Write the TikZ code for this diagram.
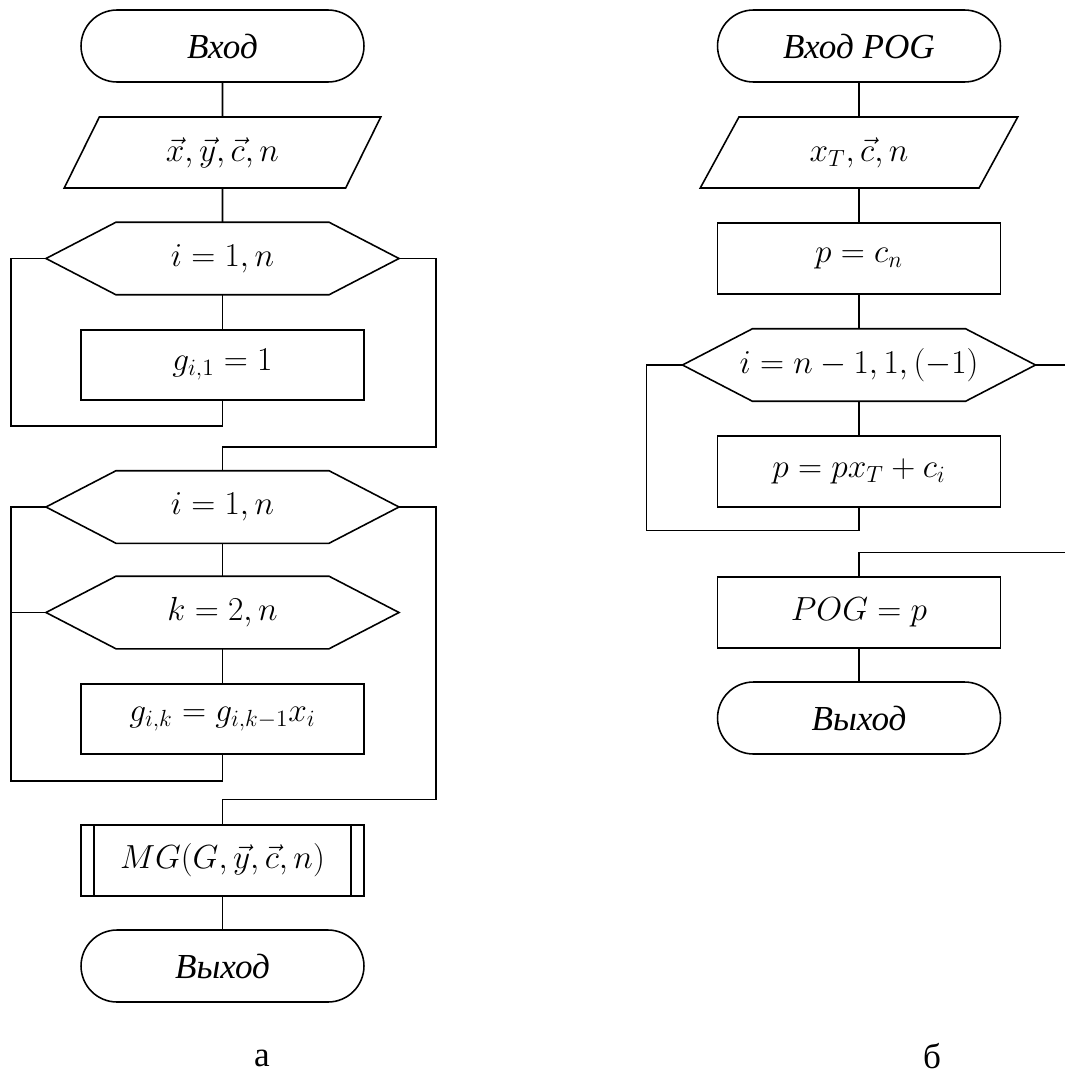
\RequirePackage{fix-cm}
\documentclass[tikz,border=0pt]{standalone}
\usepackage{fontspec}
\setmainfont{Liberation Serif}
\usepackage{amsmath}
\usetikzlibrary{positioning,shapes.geometric,calc}

% hexagon outline of a loop node
\newcommand{\cycshape}[1]{%
  \draw (#1.west) -- ([xshift=1.4cm]#1.north west) -- ([xshift=-1.4cm]#1.north east)
    -- (#1.east) -- ([xshift=-1.4cm]#1.south east) -- ([xshift=1.4cm]#1.south west) -- cycle;}

\begin{document}
\begin{tikzpicture}[x=0.02cm,y=-0.02cm,line width=0.9pt,
  font=\fontsize{19}{23}\selectfont,
  term/.style={draw,rounded corners=0.72cm,minimum width=5.66cm,minimum height=1.44cm,font=\fontsize{20}{24}\selectfont\itshape},
  proc/.style={draw,minimum width=5.66cm,minimum height=1.41cm},
  io/.style={draw,trapezium,trapezium left angle=67,trapezium right angle=113,trapezium stretches=true,minimum width=6.36cm,minimum height=1.42cm},
  cyc/.style={minimum width=7.03cm,minimum height=1.42cm},
  capt/.style={inner sep=0pt,font=\fontsize{20}{24}\selectfont}]
\useasboundingbox (0,0) rectangle (1065,1072);

% a
\node[term] (in1) at (222.5,46) {Вход};
\node[io] (dat1) at (222.5,152.5) {$\vec{x}, \vec{y}, \vec{c}, n$};
\node[cyc] (cyc1) at (222.5,258.5) {$i=1, n$};
\node[proc] (g1) at (222.5,365) {$g_{i,1}=1$};
\node[cyc] (cyc2) at (222.5,507) {$i=1, n$};
\node[cyc] (cyc3) at (222.5,612.5) {$k=2, n$};
\node[proc] (g2) at (222.5,719) {$g_{i,k}=g_{i,k-1}x_i$};
\node[proc] (mg) at (222.5,860.5) {$MG(G, \vec{y}, \vec{c}, n)$};
\node[term] (out1) at (222.5,966) {Выход};
\node[capt] (capa) at (262,1058) {а};
\foreach \n in {cyc1,cyc2,cyc3} {\cycshape{\n}}
\draw ([xshift=0.28cm]mg.north west) -- ([xshift=0.28cm]mg.south west);
\draw ([xshift=-0.28cm]mg.north east) -- ([xshift=-0.28cm]mg.south east);

\draw (in1.south) -- (dat1.north);
\draw (dat1.south) -- (cyc1.north);
\draw (cyc1.south) -- (g1.north);
\draw (g1.south) -- ++(0,25) -| ([xshift=-0.7cm]cyc1.west) -- (cyc1.west);
\draw (cyc1.east) -- ++(37,0) |- ($(g1.south)+(0,46)$) -- (cyc2.north);
\draw (cyc2.south) -- (cyc3.north);
\draw (cyc3.south) -- (g2.north);
\draw (cyc3.west) -- ++(-35,0);
\draw (g2.south) -- ++(0,26) -| ([xshift=-0.7cm]cyc2.west) -- (cyc2.west);
\draw (cyc2.east) -- ++(37,0) |- ($(mg.north)+(0,-25)$) -- (mg.north);
\draw (mg.south) -- (out1.north);

% b
\node[term] (in2) at (859,46) {Вход POG};
\node[io] (dat2) at (859,152.5) {$x_T, \vec{c}, n$};
\node[proc] (pc) at (859,258.5) {$p=c_n$};
\node[cyc] (cyc4) at (859,365) {$i=n-1, 1, (-1)$};
\node[proc] (pp) at (859,471.5) {$p=px_T+c_i$};
\node[proc] (pog) at (859,612.5) {$POG=p$};
\node[term] (out2) at (859,718) {Выход};
\node[capt] (capb) at (932,1056) {б};
\cycshape{cyc4}

\draw (in2.south) -- (dat2.north);
\draw (dat2.south) -- (pc.north);
\draw (pc.south) -- (cyc4.north);
\draw (cyc4.south) -- (pp.north);
\draw (pp.south) -- ++(0,23) -| ([xshift=-0.72cm]cyc4.west) -- (cyc4.west);
\draw (cyc4.east) -- ++(40,0) |- ($(pog.north)+(0,-24)$) -- (pog.north);
\draw (pog.south) -- (out2.north);
\end{tikzpicture}
\end{document}
